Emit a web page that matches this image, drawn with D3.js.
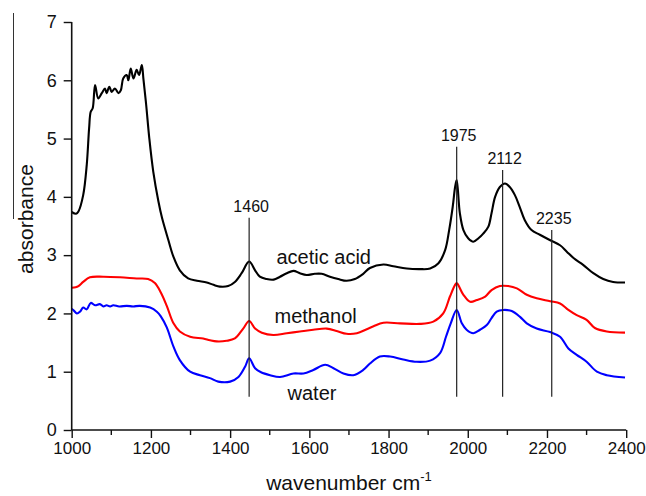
<!DOCTYPE html>
<html>
<head>
<meta charset="utf-8">
<script src="https://cdn.jsdelivr.net/npm/d3@7/dist/d3.min.js"></script>
<style>
  html, body { margin: 0; padding: 0; background: #fff; }
  svg { display: block; font-family: "Liberation Sans", Arial, sans-serif; }
</style>
</head>
<body>
<script>
// ---- data ----
const xTicks = [1000, 1200, 1400, 1600, 1800, 2000, 2200, 2400];
const xMinorTicks = [1100, 1300, 1500, 1700, 1900, 2100, 2300];
const yTicks = [0, 1, 2, 3, 4, 5, 6, 7];

const aceticAcid = [
  [1000,3.74],[1011,3.71],[1017,3.75],[1029,4.03],[1038,4.55],[1044,5.18],[1048,5.46],[1053,5.52],
  [1059,5.92],[1067,5.69],[1076,5.78],[1084,5.86],[1088,5.78],[1095,5.89],[1101,5.80],[1109,5.86],
  [1118,5.78],[1124,5.83],[1130,6.03],[1139,6.09],[1143,6.00],[1149,6.20],[1156,6.03],[1164,6.18],
  [1170,6.09],[1177,6.26],[1181,6.03],[1188,5.58],[1196,5.00],[1206,4.43],[1219,3.92],[1228,3.64],
  [1244,3.26],[1257,2.97],[1273,2.74],[1294,2.60],[1316,2.56],[1341,2.53],[1358,2.49],[1374,2.46],
  [1395,2.47],[1412,2.54],[1429,2.69],[1448,2.89],[1463,2.74],[1475,2.63],[1492,2.59],[1510,2.58],
  [1526,2.63],[1543,2.69],[1560,2.73],[1576,2.69],[1593,2.66],[1614,2.68],[1631,2.68],[1652,2.63],
  [1673,2.59],[1694,2.56],[1715,2.59],[1736,2.68],[1753,2.78],[1787,2.84],[1812,2.81],[1846,2.77],
  [1879,2.76],[1905,2.77],[1926,2.86],[1943,3.09],[1953,3.43],[1962,3.83],[1968,4.17],[1972,4.29],
  [1980,3.72],[1989,3.43],[2001,3.29],[2014,3.23],[2027,3.29],[2039,3.37],[2052,3.49],[2060,3.72],
  [2069,4.00],[2081,4.17],[2094,4.23],[2106,4.17],[2119,4.03],[2131,3.83],[2144,3.60],[2161,3.43],
  [2182,3.35],[2207,3.26],[2233,3.17],[2250,3.06],[2267,2.95],[2292,2.83],[2317,2.69],[2342,2.59],
  [2367,2.54],[2397,2.53]
];

const methanol = [
  [1000,2.44],[1010,2.45],[1017,2.47],[1029,2.54],[1046,2.62],[1080,2.63],[1122,2.62],[1164,2.60],
  [1193,2.59],[1210,2.52],[1225,2.36],[1240,2.13],[1257,1.83],[1273,1.69],[1299,1.60],[1332,1.57],
  [1349,1.54],[1366,1.52],[1391,1.53],[1412,1.57],[1433,1.74],[1448,1.87],[1463,1.74],[1480,1.67],
  [1509,1.63],[1543,1.66],[1576,1.69],[1610,1.72],[1644,1.74],[1669,1.70],[1694,1.65],[1720,1.66],
  [1745,1.73],[1762,1.78],[1787,1.84],[1829,1.83],[1879,1.82],[1913,1.86],[1938,2.00],[1955,2.29],
  [1968,2.49],[1972,2.52],[1989,2.32],[2006,2.20],[2023,2.23],[2044,2.29],[2060,2.40],[2081,2.47],
  [2102,2.47],[2124,2.43],[2149,2.32],[2174,2.26],[2208,2.21],[2233,2.17],[2254,2.06],[2275,1.97],
  [2300,1.89],[2321,1.75],[2351,1.69],[2397,1.67]
];

const water = [
  [1000,2.08],[1004,2.06],[1013,2.00],[1021,2.03],[1029,2.10],[1038,2.07],[1048,2.18],[1059,2.14],
  [1071,2.16],[1080,2.12],[1088,2.14],[1097,2.12],[1105,2.14],[1120,2.12],[1139,2.13],[1155,2.12],
  [1172,2.13],[1198,2.10],[1215,2.03],[1225,1.95],[1240,1.76],[1257,1.43],[1273,1.20],[1299,1.00],
  [1324,0.94],[1349,0.89],[1370,0.83],[1400,0.83],[1421,0.91],[1438,1.09],[1448,1.23],[1463,1.06],
  [1478,0.99],[1501,0.94],[1526,0.91],[1560,0.97],[1585,0.97],[1610,1.03],[1640,1.12],[1661,1.06],
  [1686,0.97],[1711,0.94],[1736,1.03],[1753,1.14],[1778,1.26],[1804,1.26],[1837,1.21],[1871,1.17],
  [1905,1.19],[1930,1.32],[1945,1.60],[1957,1.83],[1972,2.06],[1985,1.83],[1997,1.72],[2014,1.66],
  [2031,1.72],[2048,1.80],[2060,1.92],[2073,2.03],[2090,2.06],[2111,2.04],[2132,1.94],[2149,1.83],
  [2174,1.74],[2208,1.68],[2233,1.60],[2254,1.40],[2275,1.29],[2300,1.17],[2326,1.00],[2351,0.94],
  [2397,0.90]
];

const seriesNames = ["acetic acid", "methanol", "water"];
const seriesColors = ["#000000", "#ff0000", "#0000ff"];
const seriesData = [aceticAcid, methanol, water];
// label anchor points [wavenumber, absorbance]
const seriesLabelPos = [[1517, 2.84], [1512, 1.83], [1545, 0.51]];

const peakLabels = ["1460", "1975", "2112", "2235"];
const peakWn = [1448, 1972, 2088, 2212];
const peakTop = [3.64, 4.86, 4.46, 3.43];
const peakBottom = 0.57;

// ---- layout ----
const W = 646, H = 496;
const x = d3.scaleLinear().domain([1000, 2400]).range([71.7, 626.2]);
const y = d3.scaleLinear().domain([0, 7]).range([430, 22]);

const svg = d3.select("body").append("svg").attr("width", W).attr("height", H);
svg.append("rect").attr("width", W).attr("height", H).attr("fill", "#fff");

// curves
const line = d3.line().x(d => x(d[0])).y(d => y(d[1])).curve(d3.curveCatmullRom.alpha(0.5));
seriesData.forEach((data, i) => {
  svg.append("path").datum(data)
    .attr("d", line)
    .attr("fill", "none")
    .attr("stroke", seriesColors[i])
    .attr("stroke-width", 2.1)
    .attr("stroke-linejoin", "round");
});

// peak marker lines
peakWn.forEach((wn, i) => {
  svg.append("line")
    .attr("x1", x(wn)).attr("x2", x(wn))
    .attr("y1", y(peakTop[i])).attr("y2", y(peakBottom))
    .attr("stroke", "#222").attr("stroke-width", 1.2);
  svg.append("text")
    .attr("x", x(wn) + 2).attr("y", y(peakTop[i]) - 6)
    .attr("text-anchor", "middle")
    .attr("font-size", 16)
    .attr("fill", "#111")
    .text(peakLabels[i]);
});

// series labels
seriesNames.forEach((name, i) => {
  svg.append("text")
    .attr("x", x(seriesLabelPos[i][0])).attr("y", y(seriesLabelPos[i][1]))
    .attr("font-size", 20)
    .attr("fill", "#111")
    .text(name);
});

// axes
const xAxis = d3.axisBottom(x).tickValues(xTicks).tickSize(8).tickPadding(4).tickFormat(d3.format("d"));
const gx = svg.append("g").attr("transform", `translate(0,${y(0)})`).call(xAxis);
gx.selectAll(".tick text").attr("font-size", 17).attr("fill", "#111").attr("font-family", "Liberation Sans, Arial, sans-serif");
gx.select(".domain").attr("stroke", "#111").attr("stroke-width", 1.6).attr("d", `M${x(1000)},0H${x(2400)}`);
gx.selectAll(".tick line").attr("stroke", "#111").attr("stroke-width", 1.4);
const minor = svg.append("g").attr("transform", `translate(0,${y(0)})`);
minor.selectAll("line").data(xMinorTicks).enter().append("line")
  .attr("x1", d => x(d)).attr("x2", d => x(d)).attr("y1", 0).attr("y2", 5)
  .attr("stroke", "#111").attr("stroke-width", 1.4);

const yAxis = d3.axisLeft(y).tickValues(yTicks).tickSize(8).tickPadding(7).tickFormat(d3.format("d"));
const gy = svg.append("g").attr("transform", `translate(${x(1000)},0)`).call(yAxis);
gy.selectAll(".tick text").attr("font-size", 18).attr("fill", "#111").attr("font-family", "Liberation Sans, Arial, sans-serif");
gy.select(".domain").attr("stroke", "#111").attr("stroke-width", 1.6).attr("d", `M0,${y(0)}V${y(7)}`);
gy.selectAll(".tick line").attr("stroke", "#111").attr("stroke-width", 1.4);

// axis titles
const xt = svg.append("text")
  .attr("x", (x(1000) + x(2400)) / 2).attr("y", 490)
  .attr("text-anchor", "middle").attr("font-size", 21).attr("fill", "#111");
xt.append("tspan").text("wavenumber cm");
xt.append("tspan").attr("font-size", 13).attr("dy", -9).text("-1");

svg.append("text")
  .attr("transform", `translate(33,219) rotate(-90)`)
  .attr("text-anchor", "middle").attr("font-size", 21).attr("fill", "#111")
  .text("absorbance");
// thin rule next to the y title (present in reference)
svg.append("line").attr("x1", 13.5).attr("x2", 13.5).attr("y1", 13).attr("y2", 219)
  .attr("stroke", "#333").attr("stroke-width", 1);
</script>
</body>
</html>
